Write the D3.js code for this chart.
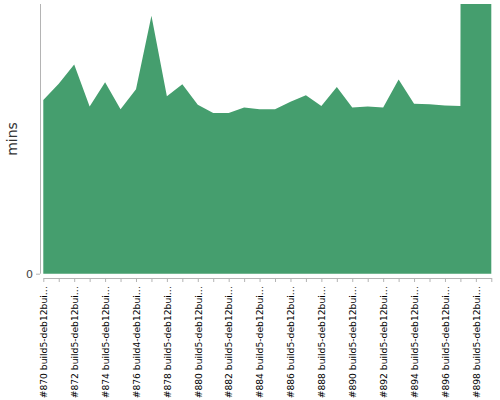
<!DOCTYPE html>
<html><head><meta charset="utf-8">
<script src="https://cdn.jsdelivr.net/npm/d3@7"></script>
<style>body{margin:0;background:#fff}svg{display:block}</style>
</head><body>
<script>
const builds = ["#870","#871","#872","#873","#874","#875","#876","#877","#878","#879","#880","#881","#882","#883","#884","#885","#886","#887","#888","#889","#890","#891","#892","#893","#894","#895","#896","#897","#898","#899"];
const builders = ["build5","build5","build5","build5","build5","build5","build4","build4","build5","build5","build5","build5","build5","build5","build5","build5","build5","build5","build5","build5","build5","build5","build5","build5","build5","build5","build5","build5","build5","build5"];
const minutes = [32.2,35.2,38.8,31.0,35.5,30.5,34.2,47.8,32.9,35.1,31.3,29.8,29.8,30.8,30.5,30.5,31.9,33.1,31.1,34.6,30.8,31.0,30.8,36.0,31.5,31.4,31.2,31.1,2400,2400];
const yTicks = [0];

const categories = builds.map((b,i)=> b + " " + builders[i] + "-deb12builder");
const W=500,H=400;
const svg=d3.select("body").append("svg").attr("width",W).attr("height",H);
const x=d3.scalePoint().domain(categories).range([43.3,491.3]);
const y=d3.scaleLinear().domain([0,50]).range([273.7,4]);
const fill="#459e6e";

svg.append("clipPath").attr("id","c").append("rect").attr("x",43).attr("y",4).attr("width",449).attr("height",270);
const area=d3.area().x((d,i)=>x(categories[i])).y0(y(0)).y1(d=>y(d));
svg.append("path").datum(minutes).attr("clip-path","url(#c)").attr("d",area).attr("fill",fill);

// y axis
const ya=svg.append("g").attr("transform","translate(40,0)").call(d3.axisLeft(y).tickValues(yTicks).tickSize(4).tickPadding(3));
ya.select(".domain").attr("d","M0.5,4V273.7").attr("stroke","#b4b4b4");
ya.selectAll(".tick line").attr("stroke","#b4b4b4");
ya.selectAll("text").attr("font-family","DejaVu Sans, sans-serif").attr("font-size",11).attr("fill","#444");

// x axis
const trunc=s=>s.length>20? s.slice(0,20)+"…":s;
const xa=svg.append("g").attr("transform","translate(0,278)").call(d3.axisBottom(x).tickSize(4).tickSizeOuter(0)
  .tickFormat((d,i)=> i%2===0? trunc(d):""));
xa.select(".domain").attr("stroke","#b4b4b4");
xa.selectAll(".tick line").attr("stroke","#b4b4b4");
xa.selectAll("text").attr("font-family","DejaVu Sans, sans-serif").attr("font-size",9.2).attr("fill","#000")
  .attr("transform","rotate(-90)").attr("text-anchor","end").attr("x",-8).attr("y",0).attr("dy","0.35em");

svg.append("text").attr("transform","translate(17,139) rotate(-90)").attr("text-anchor","middle")
  .attr("font-family","DejaVu Sans, sans-serif").attr("font-size",14).attr("fill","#333").text("mins");
</script>
</body></html>
